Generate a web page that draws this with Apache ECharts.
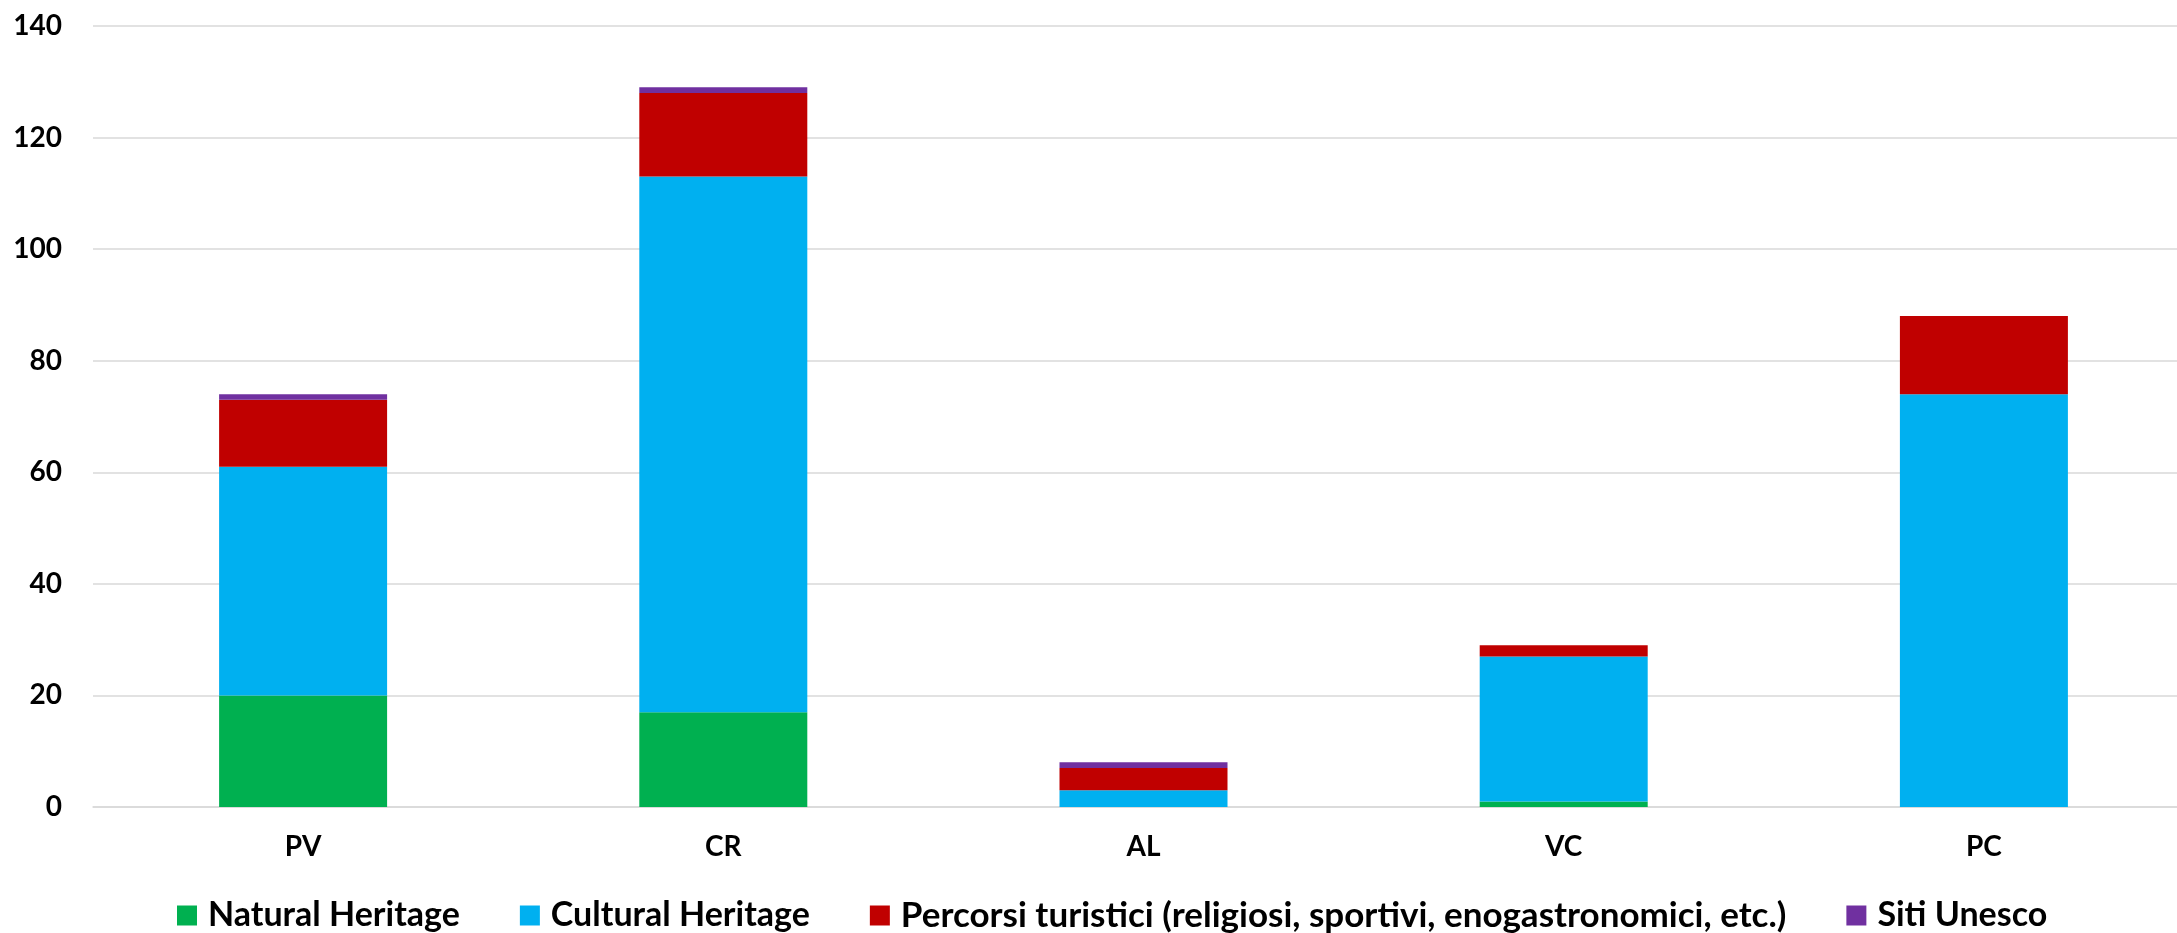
<!DOCTYPE html>
<html><head><meta charset="utf-8">
<script src="https://cdn.jsdelivr.net/npm/echarts@6/dist/echarts.min.js"></script>
<style>html,body{margin:0;padding:0;background:#fff;overflow:hidden}#c{width:2200px;height:933px}</style>
</head><body><div id="c"></div>
<script>
const categories = ['PV', 'CR', 'AL', 'VC', 'PC'];
const seriesNames = ['Natural Heritage', 'Cultural Heritage', 'Percorsi turistici (religiosi, sportivi, enogastronomici, etc.)', 'Siti Unesco'];
const naturalHeritage = [20, 17, 0, 1, 0];
const culturalHeritage = [41, 96, 3, 26, 74];
const percorsiTuristici = [12, 15, 4, 2, 14];
const sitiUnesco = [1, 1, 1, 0, 0];
const colors = ['#00B050', '#00B0F0', '#C00000', '#7030A0'];
const values = [naturalHeritage, culturalHeritage, percorsiTuristici, sitiUnesco];
const FONT = 'Lato';

const chart = echarts.init(document.getElementById('c'));
chart.setOption({
  animation: false,
  color: colors,
  grid: { left: 93, top: 26, width: 2101, height: 781 },
  legend: {
    left: 172, top: 893,
    itemWidth: 20, itemHeight: 20, itemGap: 60,
    icon: 'rect',
    textStyle: { fontFamily: FONT, fontWeight: 'bold', fontSize: 34, color: '#000', padding: [0, 0, 0, 6] },
    data: seriesNames.map((n, i) => i === 2 ? { name: n, textStyle: { fontSize: 35 } } : { name: n })
  },
  xAxis: {
    type: 'category', data: categories,
    axisLine: { show: true, lineStyle: { color: '#d9d9d9', width: 1.5 } },
    axisTick: { show: false },
    axisLabel: { fontFamily: FONT, fontWeight: 'bold', fontSize: 28, color: '#000', margin: 26 }
  },
  yAxis: {
    type: 'value', min: 0, max: 140, interval: 20,
    axisLine: { show: false }, axisTick: { show: false },
    splitLine: { lineStyle: { color: '#d9d9d9', width: 1.5 } },
    axisLabel: { fontFamily: FONT, fontWeight: 'bold', fontSize: 28, color: '#000', margin: 31 }
  },
  series: seriesNames.map((n, i) => ({
    name: n, type: 'bar', stack: 'total', data: values[i], barWidth: 168,
    itemStyle: { color: colors[i] }
  }))
});
</script></body></html>
